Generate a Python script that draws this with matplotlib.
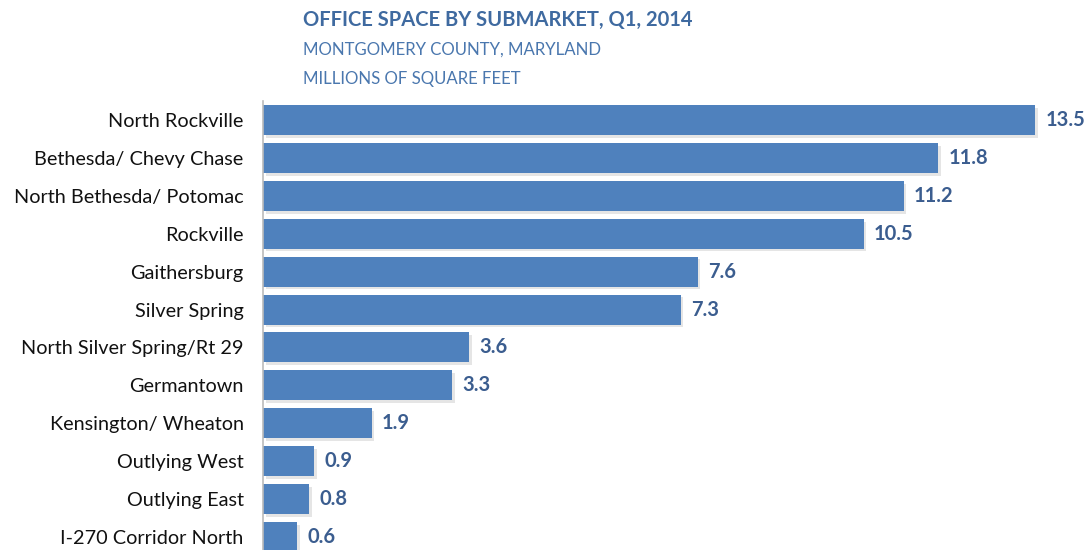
import numpy as np
import matplotlib.pyplot as plt
import matplotlib.patheffects as pe

submarkets = ['North Rockville', 'Bethesda/ Chevy Chase', 'North Bethesda/ Potomac',
              'Rockville', 'Gaithersburg', 'Silver Spring', 'North Silver Spring/Rt 29',
              'Germantown', 'Kensington/ Wheaton', 'Outlying West', 'Outlying East',
              'I-270 Corridor North']
sq_feet = [13.5, 11.8, 11.2, 10.5, 7.6, 7.3, 3.6, 3.3, 1.9, 0.9, 0.8, 0.6]

plt.rcParams['font.family'] = ['Lato', 'DejaVu Sans']

bar_c = '#4F81BD'
lbl_c = '#3B5D8F'

fig = plt.figure(figsize=(10.88, 5.5), dpi=100)
ax = fig.add_axes([263/1088., 0., 825/1088., 449/550.])

y = np.arange(len(submarkets))
bars = ax.barh(y, sq_feet, height=0.79, color=bar_c, zorder=2)
for b in bars:
    b.set_path_effects([pe.SimplePatchShadow(offset=(2, -2), shadow_rgbFace='#999999', alpha=0.25), pe.Normal()])

for yi, v in zip(y, sq_feet):
    ax.text(v + 0.18, yi, '%.1f' % v, va='center', ha='left', fontsize=14.5,
            fontweight='bold', color=lbl_c)

ax.set_xlim(0, 825/57.2)
ax.set_ylim(11 + 13/38., -0.5)
ax.set_yticks(y)
ax.set_yticklabels(submarkets, fontsize=14.3, color='#111111')
ax.tick_params(axis='y', length=0, pad=14)
ax.set_xticks([])
for s in ['top', 'right', 'bottom']:
    ax.spines[s].set_visible(False)
ax.spines['left'].set_color('#BBBBBB')
ax.spines['left'].set_linewidth(1.2)

fig.text(303/1088., 1 - 20/550., 'OFFICE SPACE BY SUBMARKET, Q1, 2014', fontsize=14.5,
         fontweight='bold', color='#3F6AA0', va='center', ha='left')
fig.text(303/1088., 1 - 50/550., 'MONTGOMERY COUNTY, MARYLAND', fontsize=12.1,
         color='#4A77AE', va='center', ha='left')
fig.text(303/1088., 1 - 79/550., 'MILLIONS OF SQUARE FEET', fontsize=12.1,
         color='#4A77AE', va='center', ha='left')

fig.savefig('out.png', dpi=100)
